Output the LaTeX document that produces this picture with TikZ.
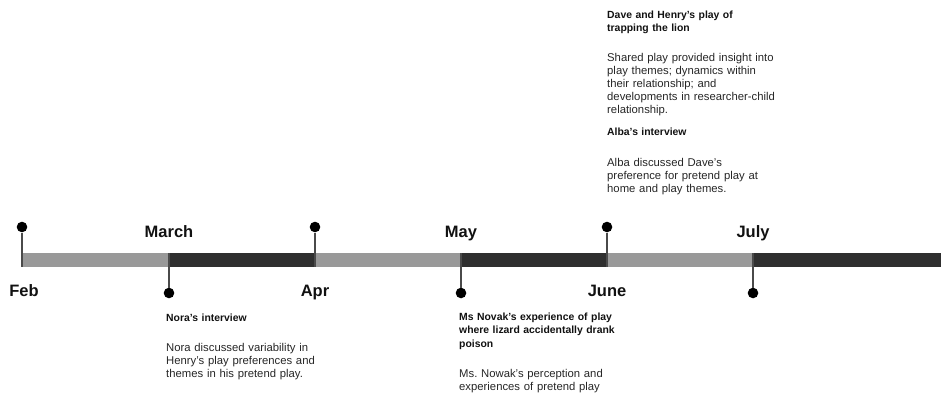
\documentclass[tikz,border=0pt]{standalone}
\usepackage{fontspec}
\setmainfont{Liberation Sans}
\frenchspacing
\definecolor{barlight}{HTML}{999999}
\definecolor{bardark}{HTML}{2F2F2F}
\definecolor{stemgray}{HTML}{4A4A4A}
\definecolor{ink}{HTML}{111111}
\definecolor{bodyink}{HTML}{262626}
\begin{document}
\begin{tikzpicture}[x=1pt,y=-1pt,
  pindot/.style={circle,fill=black,inner sep=0pt,minimum size=10.6pt},
  stemline/.style={draw=stemgray,line width=1.2pt},
  month/.style={font=\fontsize{16.5}{18}\selectfont\bfseries,text=ink,inner sep=0pt,anchor=base},
  evtitle/.style={anchor=base west,inner sep=0pt,text width=210pt,align=left,
    font=\fontsize{10.4}{13.5}\selectfont\bfseries,text=ink},
  evbody/.style={anchor=base west,inner sep=0pt,text width=210pt,align=left,
    font=\fontsize{11.3}{13.2}\selectfont,text=bodyink}]
\useasboundingbox (0,0) rectangle (941,397);

% top and bottom edges of the timeline bar at each month boundary
\foreach \n/\x in {feb/22,mar/169,apr/315,may/461,jun/607,jul/753,last/941}{
  \coordinate (\n-t) at (\x,253);
  \coordinate (\n-b) at (\x,267);
}

% alternating bar segments
\fill[barlight] (feb-t) rectangle (mar-b);
\fill[bardark]  (mar-t) rectangle (apr-b);
\fill[barlight] (apr-t) rectangle (may-b);
\fill[bardark]  (may-t) rectangle (jun-b);
\fill[barlight] (jun-t) rectangle (jul-b);
\fill[bardark]  (jul-t) rectangle (last-b);

% pins above and below the bar
\node[pindot] (pfeb) at (22,227) {};
\node[pindot] (pmar) at (169,293) {};
\node[pindot] (papr) at (315,227) {};
\node[pindot] (pmay) at (461,293) {};
\node[pindot] (pjun) at (607,227) {};
\node[pindot] (pjul) at (753,293) {};

\draw[stemline] (pfeb.south) -- (feb-b);
\draw[stemline] (pmar.north) -- (mar-t);
\draw[stemline] (papr.south) -- (apr-b);
\draw[stemline] (pmay.north) -- (may-t);
\draw[stemline] (pjun.south) -- (jun-b);
\draw[stemline] (pjul.north) -- (jul-t);

% month labels
\node[month] (lmar) at (169,237) {March};
\node[month] (lmay) at (461,237) {May};
\node[month] (ljul) at (753,237) {July};
\node[month] (lfeb) at (24,296) {Feb};
\node[month] (lapr) at (315,296) {Apr};
\node[month] (ljun) at (607,296) {June};

% events in June
\node[evtitle] (davetitle) at (607,18) {Dave and Henry’s play of\\trapping the lion};
\node[evbody] (davebody) at (607,61) {Shared play provided insight into\\play themes; dynamics within\\their relationship; and\\developments in researcher-child\\relationship.};
\node[evtitle] (albatitle) at (607,135) {Alba’s interview};
\node[evbody] (albabody) at (607,166) {Alba discussed Dave’s\\preference for pretend play at\\home and play themes.};

% event in March
\node[evtitle] (noratitle) at (166,321) {Nora’s interview};
\node[evbody] (norabody) at (166,351) {Nora discussed variability in\\Henry’s play preferences and\\themes in his pretend play.};

% event in May
\node[evtitle] (novaktitle) at (459,320) {Ms Novak’s experience of play\\where lizard accidentally drank\\poison};
\node[evbody] (novakbody) at (459,377) {Ms. Nowak’s perception and\\experiences of pretend play};
\end{tikzpicture}
\end{document}
